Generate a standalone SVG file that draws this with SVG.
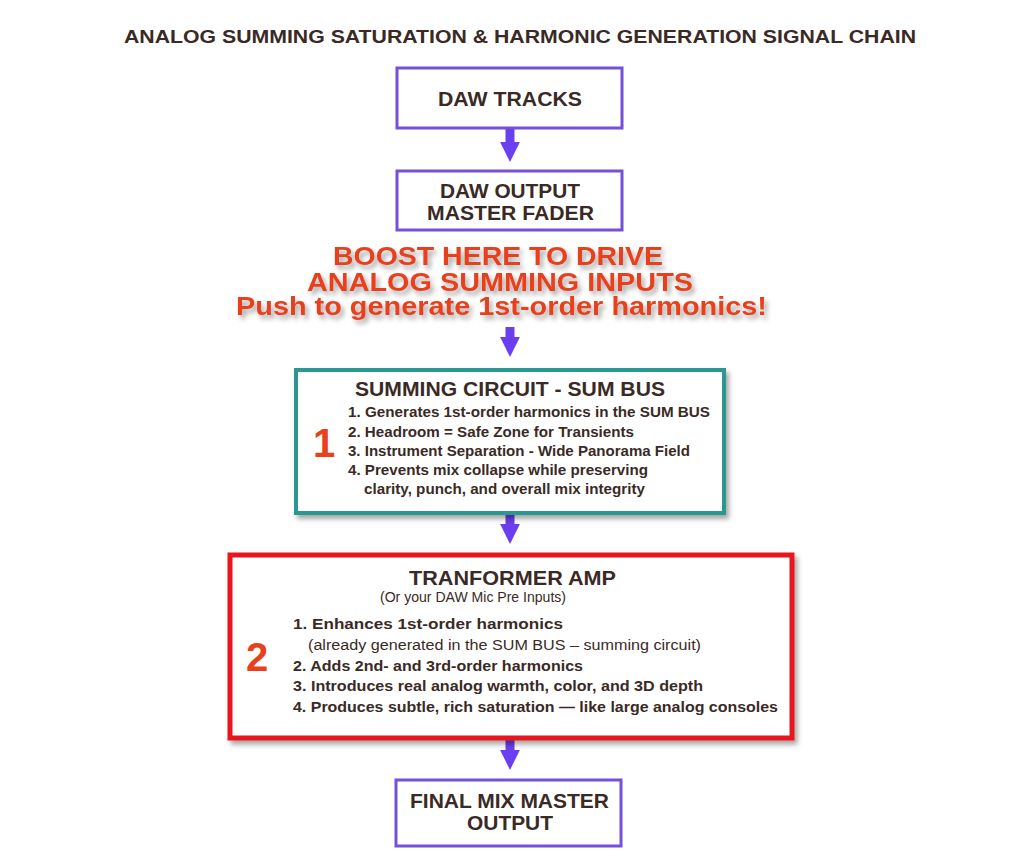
<svg xmlns="http://www.w3.org/2000/svg" width="1024" height="853" viewBox="0 0 1024 853">
<defs>
<filter id="sh" x="-5%" y="-5%" width="115%" height="120%"><feDropShadow dx="3" dy="4" stdDeviation="2.5" flood-color="#000" flood-opacity="0.35"/></filter>
<marker id="ah" viewBox="0 0 10 10" refX="5" refY="5" markerWidth="2.6" markerHeight="2.2" markerUnits="strokeWidth" orient="auto"><path d="M0,0 L10,5 L0,10 z" fill="#6b3ff0"/></marker>
</defs>
<style>
text{font-family:"Liberation Sans",Arial,sans-serif;fill:#3a2a26;font-weight:bold}
.pb{fill:#fff;stroke:#7451d8;stroke-width:3}
.t{font-size:20px}
.li{font-size:15.5px}
.nw{font-weight:normal}
.boost{fill:#e8401c;font-size:26px;font-weight:900}
.num{fill:#e8401c;font-size:40px}
.c line{stroke:#6b3ff0;stroke-width:9;marker-end:url(#ah)}
</style>
<rect width="1024" height="853" fill="#fff"/>
<text x="124" y="43" font-size="18" textLength="792" lengthAdjust="spacingAndGlyphs">ANALOG SUMMING SATURATION &amp; HARMONIC GENERATION SIGNAL CHAIN</text>
<g class="c">
<line x1="510" y1="128" x2="510" y2="152"/>
<line x1="510" y1="327" x2="510" y2="347"/>
<line x1="510" y1="514" x2="510" y2="534"/>
<line x1="510" y1="740" x2="510" y2="760"/>
</g>
<g id="daw-tracks"><rect class="pb" x="397" y="68" width="225" height="60"/><text class="t" x="438" y="106" textLength="144" lengthAdjust="spacingAndGlyphs">DAW TRACKS</text></g>
<g id="daw-output"><rect class="pb" x="397" y="171" width="225" height="59"/><text class="t" x="440" y="198" textLength="140" lengthAdjust="spacingAndGlyphs">DAW OUTPUT</text><text class="t" x="427" y="220" textLength="167" lengthAdjust="spacingAndGlyphs">MASTER FADER</text></g>
<g id="boost" filter="url(#sh)">
<text class="boost" x="333" y="265" textLength="330" lengthAdjust="spacingAndGlyphs">BOOST HERE TO DRIVE</text>
<text class="boost" x="307" y="291" textLength="386" lengthAdjust="spacingAndGlyphs">ANALOG SUMMING INPUTS</text>
<text class="boost" x="236" y="315" textLength="531" lengthAdjust="spacingAndGlyphs">Push to generate 1st-order harmonics!</text>
</g>
<g id="summing">
<rect x="296" y="370" width="428" height="143" fill="#fff" stroke="#2a9890" stroke-width="4" filter="url(#sh)"/>
<text class="t" x="355" y="396" textLength="310" lengthAdjust="spacingAndGlyphs">SUMMING CIRCUIT - SUM BUS</text>
<text class="num" x="313" y="457">1</text>
<text class="li" x="348" y="417" textLength="362" lengthAdjust="spacingAndGlyphs">1. Generates 1st-order harmonics in the SUM BUS</text>
<text class="li" x="348" y="437" textLength="286" lengthAdjust="spacingAndGlyphs">2. Headroom = Safe Zone for Transients</text>
<text class="li" x="348" y="456" textLength="342" lengthAdjust="spacingAndGlyphs">3. Instrument Separation - Wide Panorama Field</text>
<text class="li" x="348" y="475" textLength="300" lengthAdjust="spacingAndGlyphs">4. Prevents mix collapse while preserving</text>
<text class="li" x="364" y="494" textLength="281" lengthAdjust="spacingAndGlyphs">clarity, punch, and overall mix integrity</text>
</g>
<g id="transformer">
<rect x="230" y="555" width="562" height="183" fill="#fff" stroke="#e8141a" stroke-width="5" filter="url(#sh)"/>
<text class="t" x="409" y="585" textLength="207" lengthAdjust="spacingAndGlyphs">TRANFORMER AMP</text>
<text class="nw" x="380" y="602" font-size="15" textLength="186" lengthAdjust="spacingAndGlyphs">(Or your DAW Mic Pre Inputs)</text>
<text class="num" x="246" y="671">2</text>
<text class="li" x="293" y="629" textLength="270" lengthAdjust="spacingAndGlyphs">1. Enhances 1st-order harmonics</text>
<text class="li nw" x="308" y="650" textLength="393" lengthAdjust="spacingAndGlyphs">(already generated in the SUM BUS – summing circuit)</text>
<text class="li" x="293" y="671" textLength="290" lengthAdjust="spacingAndGlyphs">2. Adds 2nd- and 3rd-order harmonics</text>
<text class="li" x="293" y="691" textLength="410" lengthAdjust="spacingAndGlyphs">3. Introduces real analog warmth, color, and 3D depth</text>
<text class="li" x="293" y="712" textLength="485" lengthAdjust="spacingAndGlyphs">4. Produces subtle, rich saturation — like large analog consoles</text>
</g>
<g id="final"><rect class="pb" x="396" y="780" width="225" height="66"/><text class="t" x="410" y="808" textLength="199" lengthAdjust="spacingAndGlyphs">FINAL MIX MASTER</text><text class="t" x="467" y="830" textLength="86" lengthAdjust="spacingAndGlyphs">OUTPUT</text></g>
</svg>
